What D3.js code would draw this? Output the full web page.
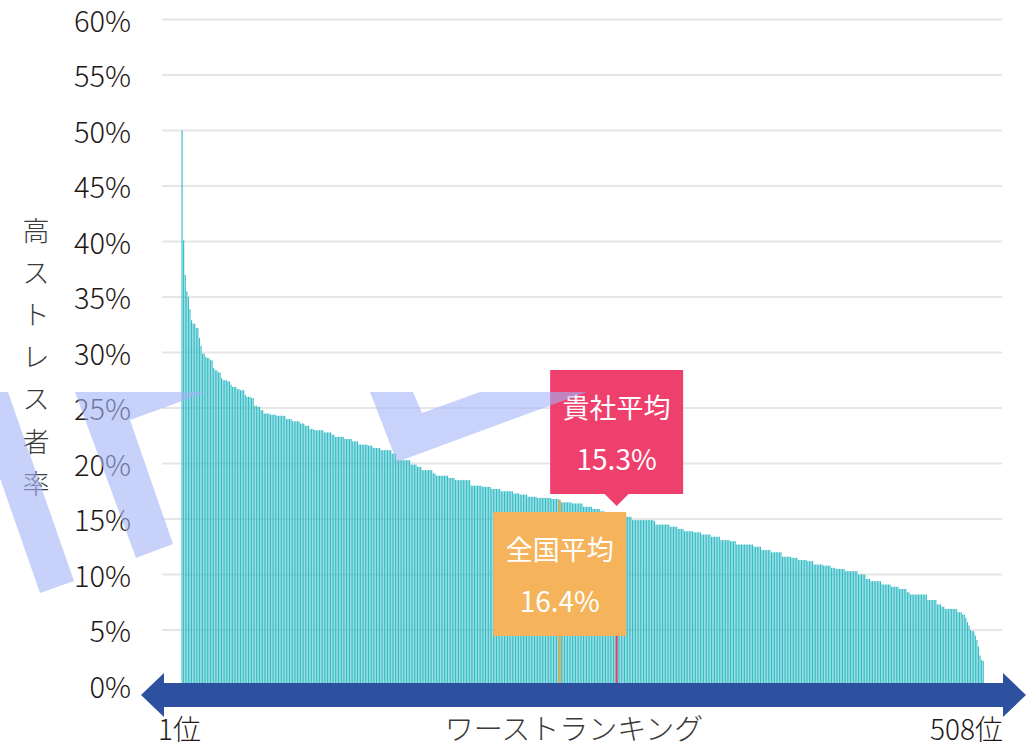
<!DOCTYPE html>
<html lang="ja">
<meta charset="utf-8">
<script src="https://cdn.jsdelivr.net/npm/d3@7/dist/d3.min.js"></script>
<style type="text/css">
    body {
        margin: 0;
        background-color: #ffffff;
    }
    text {
        font-family: "Noto Sans CJK JP", "Noto Sans", sans-serif;
    }
</style>
<body>
<script type="text/javascript">
    // high stress rate (%) per workplace, worst first (rank 1 .. 508)
    var rates = [
        50.0, 40.1, 37.0, 35.5, 35.0, 33.9, 32.9, 32.6, 32.6, 32.2,
        32.2, 31.3, 30.6, 29.9, 29.9, 29.6, 29.5, 29.5, 29.3, 29.3,
        28.6, 28.4, 28.4, 28.2, 28.2, 27.7, 27.5, 27.5, 27.5, 27.4,
        27.4, 27.1, 26.9, 26.9, 26.9, 26.7, 26.7, 26.6, 26.6, 26.6,
        26.2, 26.0, 26.0, 26.0, 25.9, 25.9, 25.2, 25.2, 25.1, 25.1,
        24.8, 24.8, 24.5, 24.5, 24.5, 24.5, 24.4, 24.4, 24.4, 24.4,
        24.3, 24.3, 24.3, 24.3, 24.3, 24.3, 24.0, 24.0, 24.0, 24.0,
        23.8, 23.8, 23.8, 23.8, 23.8, 23.6, 23.6, 23.6, 23.4, 23.4,
        23.4, 23.1, 23.1, 23.1, 23.0, 23.0, 23.0, 23.0, 23.0, 23.0,
        22.8, 22.8, 22.8, 22.8, 22.8, 22.6, 22.6, 22.4, 22.4, 22.4,
        22.4, 22.4, 22.4, 22.2, 22.2, 22.2, 22.2, 22.2, 22.0, 22.0,
        22.0, 22.0, 21.7, 21.7, 21.7, 21.7, 21.7, 21.7, 21.6, 21.6,
        21.6, 21.4, 21.4, 21.4, 21.4, 21.4, 21.2, 21.2, 21.2, 21.2,
        21.2, 21.2, 21.2, 20.9, 20.9, 20.9, 20.3, 20.3, 20.3, 20.3,
        20.3, 20.3, 20.3, 20.3, 20.3, 19.9, 19.9, 19.9, 19.9, 19.7,
        19.7, 19.7, 19.4, 19.4, 19.4, 19.4, 19.4, 19.4, 19.4, 19.1,
        19.1, 18.9, 18.9, 18.9, 18.9, 18.9, 18.9, 18.9, 18.9, 18.7,
        18.7, 18.7, 18.7, 18.5, 18.5, 18.5, 18.5, 18.5, 18.5, 18.5,
        18.5, 18.5, 18.5, 18.0, 18.0, 18.0, 18.0, 18.0, 18.0, 18.0,
        17.9, 17.9, 17.9, 17.9, 17.9, 17.9, 17.7, 17.7, 17.7, 17.7,
        17.7, 17.7, 17.5, 17.5, 17.5, 17.5, 17.5, 17.5, 17.5, 17.5,
        17.3, 17.3, 17.3, 17.3, 17.2, 17.2, 17.2, 17.2, 17.2, 17.0,
        17.0, 17.0, 17.0, 17.0, 17.0, 16.9, 16.9, 16.9, 16.9, 16.9,
        16.9, 16.9, 16.9, 16.9, 16.8, 16.8, 16.8, 16.8, 16.8, 16.7,
        16.5, 16.5, 16.5, 16.5, 16.5, 16.5, 16.5, 16.4, 16.4, 16.4,
        16.4, 16.4, 16.4, 16.4, 16.1, 16.1, 16.1, 16.1, 16.1, 16.1,
        15.9, 15.9, 15.9, 15.9, 15.9, 15.7, 15.7, 15.7, 15.6, 15.6,
        15.6, 15.6, 15.4, 15.4, 15.4, 15.3, 15.3, 15.3, 15.3, 15.3,
        15.3, 15.2, 15.2, 15.2, 15.2, 14.9, 14.9, 14.9, 14.9, 14.9,
        14.9, 14.9, 14.9, 14.9, 14.9, 14.9, 14.9, 14.9, 14.9, 14.8,
        14.5, 14.5, 14.5, 14.5, 14.5, 14.5, 14.5, 14.5, 14.5, 14.3,
        14.3, 14.3, 14.3, 14.3, 14.1, 14.1, 14.1, 14.1, 13.9, 13.9,
        13.9, 13.9, 13.9, 13.9, 13.8, 13.8, 13.8, 13.8, 13.8, 13.6,
        13.6, 13.6, 13.6, 13.6, 13.6, 13.4, 13.4, 13.4, 13.4, 13.4,
        13.4, 13.1, 13.1, 13.1, 13.1, 13.1, 13.1, 13.0, 13.0, 13.0,
        13.0, 12.7, 12.7, 12.7, 12.7, 12.7, 12.7, 12.7, 12.7, 12.7,
        12.7, 12.7, 12.5, 12.5, 12.5, 12.5, 12.5, 12.2, 12.2, 12.2,
        12.2, 12.2, 12.2, 12.0, 12.0, 12.0, 12.0, 12.0, 12.0, 12.0,
        11.6, 11.6, 11.6, 11.6, 11.6, 11.6, 11.5, 11.5, 11.5, 11.5,
        11.3, 11.3, 11.3, 11.3, 11.3, 11.3, 11.2, 11.2, 11.2, 11.2,
        10.9, 10.9, 10.9, 10.9, 10.9, 10.9, 10.8, 10.8, 10.8, 10.8,
        10.8, 10.6, 10.6, 10.6, 10.5, 10.5, 10.5, 10.5, 10.5, 10.5,
        10.3, 10.3, 10.3, 10.3, 10.3, 10.3, 10.3, 10.3, 10.0, 10.0,
        10.0, 10.0, 10.0, 9.6, 9.6, 9.6, 9.4, 9.4, 9.4, 9.4,
        9.4, 9.4, 9.4, 9.1, 9.1, 9.1, 9.1, 9.1, 9.1, 8.9,
        8.9, 8.9, 8.9, 8.9, 8.7, 8.7, 8.7, 8.7, 8.7, 8.4,
        8.4, 8.2, 8.2, 8.2, 8.2, 8.2, 8.2, 8.2, 8.2, 8.2,
        8.2, 8.2, 7.7, 7.7, 7.7, 7.7, 7.7, 7.7, 7.3, 7.3,
        7.3, 7.1, 7.1, 6.9, 6.9, 6.9, 6.9, 6.9, 6.9, 6.9,
        6.9, 6.6, 6.6, 6.6, 6.4, 6.4, 6.1, 5.7, 5.4, 5.0,
        4.9, 4.9, 4.5, 4.1, 3.5, 2.7, 2.3, 2.2
    ];
    var ranks = rates.map(function(d, i){ return i + 1; });

    var yTicks = [0, 5, 10, 15, 20, 25, 30, 35, 40, 45, 50, 55, 60];
    var yTitle = "高ストレス者率";
    var xTitle = "ワーストランキング";
    var firstLabel = "1位";
    var lastLabel = ranks.length + "位";

    // the two averages and the rank they sit at
    var nationalAvg = 16.4, nationalRank = 240;
    var companyAvg = 15.3, companyRank = 276;

    var width = 1036, height = 748;

    var svg = d3.select("body")
        .append("svg")
        .attr("width", width)
        .attr("height", height);

    var x = d3.scaleBand().domain(ranks).range([181.5, 983.8]).paddingInner(0.28);
    var y = d3.scaleLinear().domain([0, 60]).range([685.5, 19.5]);

    // grid lines
    svg.append("g")
        .selectAll("line")
        .data(yTicks)
        .enter()
        .append("line")
        .attr("x1", 162)
        .attr("x2", 1002)
        .attr("y1", function(d){ return y(d); })
        .attr("y2", function(d){ return y(d); })
        .style("stroke", "#e6e6e6")
        .style("stroke-width", 2);

    // y axis labels
    var yAxis = d3.axisLeft(y)
        .tickValues(yTicks)
        .tickSize(0)
        .tickPadding(0)
        .tickFormat(function(d){ return d + "%"; });

    var yg = svg.append("g")
        .attr("transform", "translate(131,0)")
        .call(yAxis);
    yg.select(".domain").remove();
    yg.selectAll("text")
        .attr("dy", "0.4em")
        .style("font-family", "\"Noto Sans CJK JP\", sans-serif")
        .style("font-weight", 300)
        .style("font-size", "29px")
        .style("fill", "#231815");

    // vertical title, one char per row
    svg.append("g")
        .selectAll("text")
        .data(yTitle.split(""))
        .enter()
        .append("text")
        .attr("x", 36)
        .attr("y", function(d, i){ return 229 + i * 42.2; })
        .attr("text-anchor", "middle")
        .attr("dominant-baseline", "central")
        .style("font-size", "27px")
        .style("font-weight", 300)
        .style("fill", "#3b3b3b")
        .text(function(d){ return d; });

    // bars
    var isMarked = function(r){ return r == nationalRank || r == companyRank; };
    svg.append("g")
        .selectAll("rect")
        .data(rates)
        .enter()
        .append("rect")
        .attr("x", function(d, i){ return x(ranks[i]); })
        .attr("width", x.bandwidth())
        .attr("y", function(d){ return y(d); })
        .attr("height", function(d){ return y(0) - y(d); })
        .style("fill", "#34bcc6");

    // the two average ranks again on top, a bit wider so they read as lines
    var marked = ranks.filter(isMarked);
    svg.append("g")
        .selectAll("rect")
        .data(marked)
        .enter()
        .append("rect")
        .attr("x", function(r){ return x(r) + x.bandwidth() / 2 - 1; })
        .attr("width", 2)
        .attr("y", function(r){ return y(rates[r - 1]); })
        .attr("height", function(r){ return y(0) - y(rates[r - 1]); })
        .style("fill", function(r){ return r == nationalRank ? "#f2a53f" : "#e83a69"; });

    // arrow under the bars
    var ay = 695, half = 12, head = 22;
    var arrow = d3.path();
    arrow.moveTo(141, ay);
    arrow.lineTo(164, ay - head);
    arrow.lineTo(164, ay - half);
    arrow.lineTo(1003, ay - half);
    arrow.lineTo(1003, ay - head);
    arrow.lineTo(1026, ay);
    arrow.lineTo(1003, ay + head);
    arrow.lineTo(1003, ay + half);
    arrow.lineTo(164, ay + half);
    arrow.lineTo(164, ay + head);
    arrow.closePath();
    svg.append("path")
        .attr("d", arrow.toString())
        .style("fill", "#2e519f");

    // bottom labels
    svg.append("text")
        .attr("x", 158)
        .attr("y", 740)
        .style("font-size", "28px")
        .style("font-weight", 300)
        .style("fill", "#231815")
        .text(firstLabel);
    svg.append("text")
        .attr("x", 1003)
        .attr("y", 740)
        .attr("text-anchor", "end")
        .style("font-size", "28px")
        .style("font-weight", 300)
        .style("fill", "#231815")
        .text(lastLabel);
    svg.append("text")
        .attr("x", 574)
        .attr("y", 740)
        .attr("text-anchor", "middle")
        .style("font-size", "29px")
        .style("font-weight", 300)
        .style("fill", "#3b3b3b")
        .text(xTitle);

    // callout boxes
    function callout(rank, title, value, top, color, pointer){
        var cx = x(rank) + x.bandwidth() / 2;
        var w = 133, h = 124;
        var g = svg.append("g");
        g.append("rect")
            .attr("x", cx - w / 2)
            .attr("y", top)
            .attr("width", w)
            .attr("height", h)
            .style("fill", color);
        if (pointer) {
            g.append("path")
                .attr("d", "M" + (cx - 12) + "," + (top + h) + "L" + (cx + 12) + "," + (top + h) + "L" + cx + "," + (top + h + 12) + "Z")
                .style("fill", color);
        }
        g.append("text")
            .attr("x", cx)
            .attr("y", top + 36)
            .attr("text-anchor", "middle")
            .attr("dominant-baseline", "central")
            .style("font-size", "27px")
            .style("fill", "#ffffff")
            .text(title);
        g.append("text")
            .attr("x", cx)
            .attr("y", top + 88)
            .attr("text-anchor", "middle")
            .attr("dominant-baseline", "central")
            .style("font-size", "28px")
            .style("fill", "#ffffff")
            .text(value.toFixed(1) + "%");
    }
    callout(companyRank, "貴社平均", companyAvg, 370, "#ee3f6d", true);
    callout(nationalRank, "全国平均", nationalAvg, 512, "#f5b35c", false);

    // faint watermark laid over everything
    var mark = svg.append("g")
        .style("fill", "#a3b4f7")
        .style("opacity", 0.6);
    var shapes = [
        [[-30, 392], [8, 392], [74, 581], [40, 593]],
        [[75, 392], [207, 392], [130, 420], [173, 544], [136, 558]],
        [[370, 392], [413, 392], [422, 413], [480, 392], [587, 392], [397, 462]]
    ];
    mark.selectAll("path")
        .data(shapes)
        .enter()
        .append("path")
        .attr("d", function(d){ return "M" + d.join("L") + "Z"; });
</script>
</body>
</html>
